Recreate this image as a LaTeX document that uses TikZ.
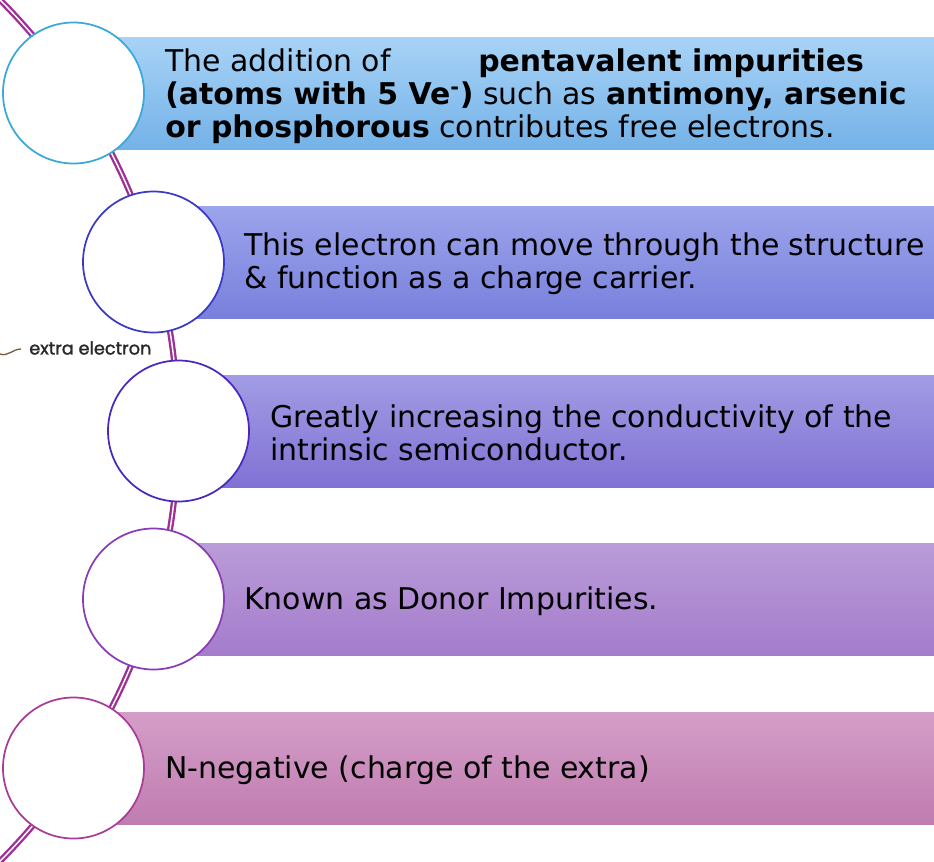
\documentclass[tikz,border=0pt]{standalone}
\usepackage{fontspec}
\setmainfont{DejaVu Sans}
\newfontfamily\notefont[FakeBold=1.6]{Poppins}
\definecolor{lc}{HTML}{9E2F96}
\definecolor{bAt}{HTML}{A8D3F6}\definecolor{bAb}{HTML}{74B2E8}\definecolor{cA}{HTML}{3AA8D8}
\definecolor{bBt}{HTML}{9CA4EC}\definecolor{bBb}{HTML}{7880DC}\definecolor{cB}{HTML}{3A3AC4}
\definecolor{bCt}{HTML}{A29CE4}\definecolor{bCb}{HTML}{8072D4}\definecolor{cC}{HTML}{4A28C0}
\definecolor{bDt}{HTML}{BA9CD8}\definecolor{bDb}{HTML}{A47CCC}\definecolor{cD}{HTML}{8A3CB4}
\definecolor{bEt}{HTML}{D49EC8}\definecolor{bEb}{HTML}{C07CB0}\definecolor{cE}{HTML}{A83C98}
\definecolor{notec}{HTML}{2A2A2A}
\definecolor{notel}{HTML}{7A5A40}
\begin{document}
\begin{tikzpicture}[x=0.75pt,y=-0.75pt,
  bead/.style={circle,fill=white,line width=1.3pt,minimum size=105.75pt,inner sep=0pt},
  txt/.style={anchor=west,align=left,inner sep=0pt,text=black,font=\fontsize{22.45}{24.6}\selectfont},
  band/.style={rectangle,inner sep=0pt,minimum height=84pt,anchor=west}]
\useasboundingbox (0,0) rectangle (934,861);
% spine
\begin{scope}
\clip (0,0) rectangle (934,861);
\draw[draw=lc,line width=1.75pt,double=white,double distance=1.1pt] (-432,430.5) circle [radius=457.5pt];
\end{scope}
% bands
\node[band,top color=bAt,bottom color=bAb,minimum width=645.75pt] (bA) at (73,93) {};
\node[band,top color=bBt,bottom color=bBb,minimum width=585.75pt] (bB) at (153,262) {};
\node[band,top color=bCt,bottom color=bCb,minimum width=567pt] (bC) at (178,431) {};
\node[band,top color=bDt,bottom color=bDb,minimum width=585.75pt] (bD) at (153,599) {};
\node[band,top color=bEt,bottom color=bEb,minimum width=645.75pt] (bE) at (73,768) {};
% beads
\node[bead,draw=cA] (cA) at (73.5,93) {};
\node[bead,draw=cB] (cB) at (153.5,262) {};
\node[bead,draw=cC] (cC) at (178.5,431) {};
\node[bead,draw=cD] (cD) at (153.5,599) {};
\node[bead,draw=cE] (cE) at (73.5,768) {};
% texts
\node[txt] (tA) at (165,96) {\makebox[234.75pt][l]{The addition of}\textbf{pentavalent impurities}\\\textbf{(atoms with 5 Ve\textsuperscript{-})} such as \textbf{antimony, arsenic}\\\textbf{or phosphorous} contributes free electrons.};
\node[txt] (tB) at (244,264) {This electron can move through the structure\\\& function as a charge carrier.};
\node[txt] (tC) at (270,433) {Greatly increasing the conductivity of the\\intrinsic semiconductor.};
\node[txt] (tD) at (244,601) {Known as Donor Impurities.};
\node[txt] (tE) at (165,770) {N-negative (charge of the extra)};
% stray label
\node[anchor=west,inner sep=0pt,text=notec,font=\notefont\fontsize{13.3}{15}\selectfont] (note) at (29,348) {extra electron};
\coordinate (nl0) at (0,354);
\coordinate (nl1) at (21,349);
\draw[notel,line width=1pt] (nl0) to[out=-20,in=180] (nl1);
\end{tikzpicture}
\end{document}
